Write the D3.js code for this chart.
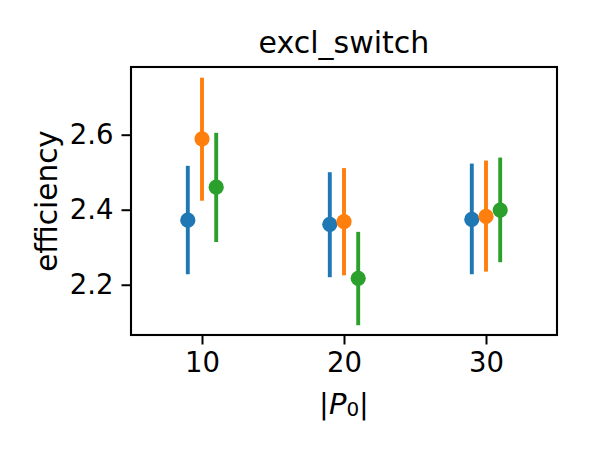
<!DOCTYPE html>
<html>
<head>
<meta charset="utf-8">
<script src="https://cdn.jsdelivr.net/npm/d3@7"></script>
<style>
  html, body { margin: 0; padding: 0; background: #fff; }
  svg { display: block; font-family: "DejaVu Sans", sans-serif; }
</style>
</head>
<body>
<svg id="chart" width="600" height="450"></svg>
<script>
// ---- data ----
const title = "excl_switch";
const yLabel = "efficiency";
const groups = [10, 20, 30];
const seriesNames = ["s0", "s1", "s2"];
const seriesOffsets = [-1, 0, 1];
const seriesColors = ["#1f77b4", "#ff7f0e", "#2ca02c"];
const meanS0 = [2.372, 2.361, 2.374];
const lowS0  = [2.228, 2.220, 2.228];
const highS0 = [2.517, 2.500, 2.523];
const meanS1 = [2.589, 2.368, 2.382];
const lowS1  = [2.424, 2.225, 2.235];
const highS1 = [2.752, 2.511, 2.531];
const meanS2 = [2.460, 2.217, 2.399];
const lowS2  = [2.314, 2.092, 2.260];
const highS2 = [2.605, 2.341, 2.539];
const xTicks = [10, 20, 30];
const yTicks = [2.2, 2.4, 2.6];

const series = [
  {mean: meanS0, low: lowS0, high: highS0},
  {mean: meanS1, low: lowS1, high: highS1},
  {mean: meanS2, low: lowS2, high: highS2}
];

// ---- layout ----
const L = 131, R = 557, T = 67, B = 335;
const svg = d3.select("#chart");

const x = d3.scaleLinear().domain([5, 35]).range([L, R]);
const y = d3.scaleLinear().domain([2.066, 2.7805]).range([B, T]);

// marks
series.forEach((s, si) => {
  const g = svg.append("g");
  const pts = groups.map((gv, i) => ({
    x: gv + seriesOffsets[si], m: s.mean[i], lo: s.low[i], hi: s.high[i]
  }));
  g.selectAll("line").data(pts).enter().append("line")
    .attr("x1", d => x(d.x)).attr("x2", d => x(d.x))
    .attr("y1", d => y(d.lo)).attr("y2", d => y(d.hi))
    .attr("stroke", seriesColors[si]).attr("stroke-width", 3.9);
  g.selectAll("circle").data(pts).enter().append("circle")
    .attr("cx", d => x(d.x)).attr("cy", d => y(d.m))
    .attr("r", 7.6).attr("fill", seriesColors[si]);
});

// axes
const xAxis = d3.axisBottom(x).tickValues(xTicks).tickSize(9.5).tickPadding(8).tickFormat(d3.format("d"));
const yAxis = d3.axisLeft(y).tickValues(yTicks).tickSize(9.5).tickPadding(8).tickFormat(d3.format(".1f"));

const gx = svg.append("g").attr("transform", `translate(0,${B})`).call(xAxis);
const gy = svg.append("g").attr("transform", `translate(${L},0)`).call(yAxis);
[gx, gy].forEach(g => {
  g.select(".domain").remove();
  g.selectAll(".tick line").attr("stroke", "#000").attr("stroke-width", 2);
  g.selectAll(".tick text").attr("fill", "#000").style("font-size", "27.5px")
    .style("font-family", "DejaVu Sans");
});

// frame
svg.append("rect").attr("x", L).attr("y", T).attr("width", R - L).attr("height", B - T)
  .attr("fill", "none").attr("stroke", "#000").attr("stroke-width", 2.1);

// title
svg.append("text").attr("x", (L + R) / 2).attr("y", 53).attr("text-anchor", "middle")
  .style("font-size", "30px").text(title);

// y label
svg.append("text").attr("transform", `translate(57,${(T + B) / 2}) rotate(-90)`)
  .attr("text-anchor", "middle").style("font-size", "29.5px").text(yLabel);

// x label |P_0|
const xl = svg.append("text").attr("x", (L + R) / 2).attr("y", 414)
  .attr("text-anchor", "middle").style("font-size", "29px");
xl.append("tspan").text("|");
xl.append("tspan").style("font-style", "italic").text("P");
xl.append("tspan").attr("dy", 2).style("font-size", "20px").text("0");
xl.append("tspan").attr("dy", -2).text("|");
</script>
</body>
</html>
